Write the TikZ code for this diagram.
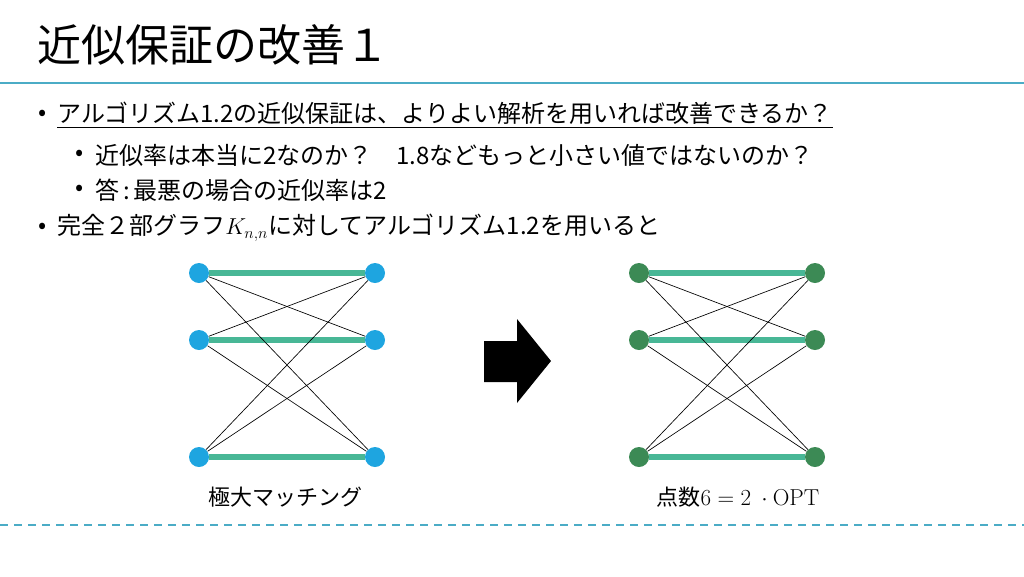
\documentclass[tikz,border=0pt]{standalone}
\usepackage[no-math]{fontspec}
\setmainfont{Noto Sans CJK JP}
\usepackage{tikz}
\usetikzlibrary{positioning,backgrounds}
\definecolor{rulec}{RGB}{75,172,198}
\definecolor{matchc}{RGB}{72,183,150}
\definecolor{vblue}{RGB}{30,165,224}
\definecolor{vgreen}{RGB}{60,138,85}

\begin{document}
\begin{tikzpicture}[
  x=0.75pt, y=-0.75pt,
  txt/.style={anchor=west, inner sep=0pt, font=\fontsize{18}{22}\selectfont},
  bul/.style={inner sep=0pt, font=\fontsize{18}{22}\selectfont},
  capt/.style={inner sep=0pt, font=\fontsize{16.5}{20}\selectfont},
  vtx/.style={circle, inner sep=0pt, minimum size=15pt},
  medge/.style={draw=matchc, line width=4pt},
  xedge/.style={draw=black, line width=0.5pt},
  hline/.style={draw=rulec, line width=1.5pt}]
\useasboundingbox (0,0) rectangle (1024,576);
% title
\node[anchor=west, inner sep=0pt, font=\fontsize{33}{36}\selectfont] (title) at (37,45) {近似保証の改善１};
\coordinate (hl) at (0,83);
\coordinate (hr) at (1024,83);
\draw[hline] (hl) -- (hr);
% bullets
\node[bul] (d1) at (43,115) {•};
\node[txt] (t1) at (57,115) {\underline{アルゴリズム1.2の近似保証は、よりよい解析を用いれば改善できるか？}};
\node[bul] (d2) at (80,155) {•};
\node[txt] (t2) at (95,155) {近似率は本当に2なのか？　1.8などもっと小さい値ではないのか？};
\node[bul] (d3) at (80,190) {•};
\node[txt] (t3) at (95,190) {答\,:\,最悪の場合の近似率は2};
\node[bul] (d4) at (43,228) {•};
\node[txt] (t4) at (57,228) {完全２部グラフ$K_{n,n}$に対してアルゴリズム1.2を用いると};
% two graphs
\foreach \g/\xa/\xb/\c in {a/199/375/vblue, b/639/815/vgreen} {
  \foreach \i/\y in {1/273, 2/340, 3/457} {
    \node[vtx, fill=\c] (\g l\i) at (\xa,\y) {};
    \node[vtx, fill=\c] (\g r\i) at (\xb,\y) {};
  }
}
\begin{scope}[on background layer]
\foreach \g in {a,b} {
  \foreach \i in {1,2,3}
    \draw[medge] (\g l\i) -- (\g r\i);
  \foreach \i/\j in {1/2, 1/3, 2/1, 2/3, 3/1, 3/2}
    \draw[xedge] (\g l\i) -- (\g r\j);
}
\end{scope}
% arrow
\fill[black] (484,341) -- (517,341) -- (517,319) -- (551,361) -- (517,403)
  -- (517,382) -- (484,382) -- cycle;
% captions
\node[capt] (capa) at (285,497) {極大マッチング};
\node[capt] (capb) at (738,497) {点数$6 = 2\ \cdot\mathrm{OPT}$};
\coordinate (dl) at (0,525);
\coordinate (dr) at (1024,525);
\draw[hline, dash pattern=on 6pt off 4.5pt] (dl) -- (dr);
\end{tikzpicture}
\end{document}
